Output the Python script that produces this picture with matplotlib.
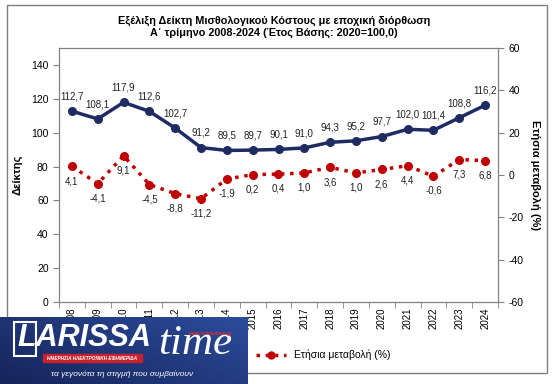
import matplotlib
matplotlib.use('Agg')
import matplotlib.pyplot as plt
import numpy as np
from matplotlib.lines import Line2D
from matplotlib.patches import Rectangle

plt.rcParams['font.family'] = ['Liberation Sans', 'DejaVu Sans']
plt.rcParams['axes.unicode_minus'] = False

years = [str(y) for y in range(2008, 2025)]
index_values = [112.7, 108.1, 117.9, 112.6, 102.7, 91.2, 89.5, 89.7, 90.1,
                91.0, 94.3, 95.2, 97.7, 102.0, 101.4, 108.8, 116.2]
annual_change = [4.1, -4.1, 9.1, -4.5, -8.8, -11.2, -1.9, 0.2, 0.4,
                 1.0, 3.6, 1.0, 2.6, 4.4, -0.6, 7.3, 6.8]

title = ('Εξέλιξη Δείκτη Μισθολογικού Κόστους με εποχική διόρθωση\n'
         'Α΄ τρίμηνο 2008-2024 (Έτος Βάσης: 2020=100,0)')

blue = '#1f2b63'
red = '#c00000'
grey = '#808080'

fig = plt.figure(figsize=(5.53, 3.84), dpi=100)
fig.patch.set_facecolor('white')

# outer chart border
fig.add_artist(Rectangle((7 / 553, 1 - 373 / 384), 540 / 553, 368 / 384,
                         transform=fig.transFigure, fill=False,
                         edgecolor='#7f7f7f', linewidth=1))

ax = fig.add_axes([59 / 553, 1 - 302 / 384, 439 / 553, 254 / 384])
ax2 = ax.twinx()

x = np.arange(len(years))
ax.plot(x, index_values, '-o', color=blue, linewidth=2.5, markersize=5.5,
        label='Δείκτης', zorder=3)
ax2.plot(x, annual_change, ':o', color=red, linewidth=2.5, markersize=5.5,
         label='Ετήσια μεταβολή (%)', zorder=3)

for xi, v in zip(x, index_values):
    ax.annotate(f'{v:.1f}'.replace('.', ','), (xi, v), textcoords='offset points',
                xytext=(0, 7), ha='center', va='bottom', fontsize=7, color='#222222')
for xi, v in zip(x, annual_change):
    ax2.annotate(f'{v:.1f}'.replace('.', ','), (xi, v), textcoords='offset points',
                 xytext=(0, -7), ha='center', va='top', fontsize=7, color='#222222')

ax.set_xlim(-0.5, len(years) - 0.5)
ax.set_ylim(0, 150)
ax.set_yticks(range(0, 141, 20))
ax2.set_ylim(-60, 60)
ax2.set_yticks(range(-60, 61, 20))

ax.set_xticks(x)
ax.set_xticklabels(years, rotation=90, fontsize=7)
ax.set_xticks(np.arange(-0.5, len(years)), minor=True)
ax.tick_params(axis='x', which='major', length=0, pad=4)
ax.tick_params(axis='x', which='minor', length=4, direction='out', color=grey)
ax.tick_params(axis='y', labelsize=7.5, length=4, color=grey)
ax2.tick_params(axis='y', labelsize=7.5, length=4, color=grey)

for a in (ax, ax2):
    for s in a.spines.values():
        s.set_color(grey)

ax.set_ylabel('Δείκτης', fontsize=8, fontweight='bold', labelpad=6)
ax2.set_ylabel('Ετήσια μεταβολή (%)', fontsize=8, fontweight='bold',
               rotation=-90, labelpad=12)

fig.text(0.495, 1 - 27 / 384, title, ha='center', va='center', fontsize=7.8,
         fontweight='bold', linespacing=1.15)

handles = [Line2D([0], [0], color=blue, marker='o', linewidth=2.5, markersize=5),
           Line2D([0], [0], color=red, marker='o', linestyle=':', linewidth=2.5,
                  markersize=5)]
fig.legend(handles, ['Δείκτης', 'Ετήσια μεταβολή (%)'], ncol=2, frameon=False,
           fontsize=7.5, loc='center', bbox_to_anchor=(272 / 553, 1 - 355 / 384),
           handlelength=2.8, columnspacing=3)

# newspaper logo overlay
logo = fig.add_axes([0, 0, 248 / 553, 67 / 384])
logo.set_zorder(10)
grad = np.linspace(0, 1, 200)[None, :] * np.ones((50, 1))
grad = grad * 0.6 + np.linspace(0.4, 0, 50)[:, None]
logo.imshow(grad, aspect='auto', extent=(0, 248, 0, 67), origin='upper',
            cmap=matplotlib.colors.LinearSegmentedColormap.from_list(
                'lg', ['#16245a', '#2c4c9c']))
logo.set_xlim(0, 248)
logo.set_ylim(0, 67)
logo.axis('off')
logo.add_patch(Rectangle((14, 28), 22, 34, fill=False, edgecolor='white',
                         linewidth=1.5))
logo.text(17, 46, 'LARISSA', color='white', fontsize=22, fontweight='bold',
          style='italic', va='center', ha='left')
logo.text(158, 40, 'time', color='white', fontsize=31, style='italic',
          family=['Liberation Serif', 'DejaVu Serif'], va='center', ha='left')
logo.add_patch(Rectangle((43, 22), 99, 8, color='#c8232c'))
logo.text(92, 26, 'ΗΜΕΡΗΣΙΑ ΗΛΕΚΤΡΟΝΙΚΗ ΕΦΗΜΕΡΙΔΑ', color='white',
          fontsize=3.4, fontweight='bold', style='italic', ha='center', va='center')
logo.text(211, 51, 'www.larissatime.gr', color='#e03030', fontsize=3.4,
          fontweight='bold', style='italic', ha='center', va='center')
logo.text(122, 10, 'τα γεγονότα τη στιγμή που συμβαίνουν', color='white',
          fontsize=6, style='italic', ha='center', va='center')

fig.savefig('out.png', dpi=100)
